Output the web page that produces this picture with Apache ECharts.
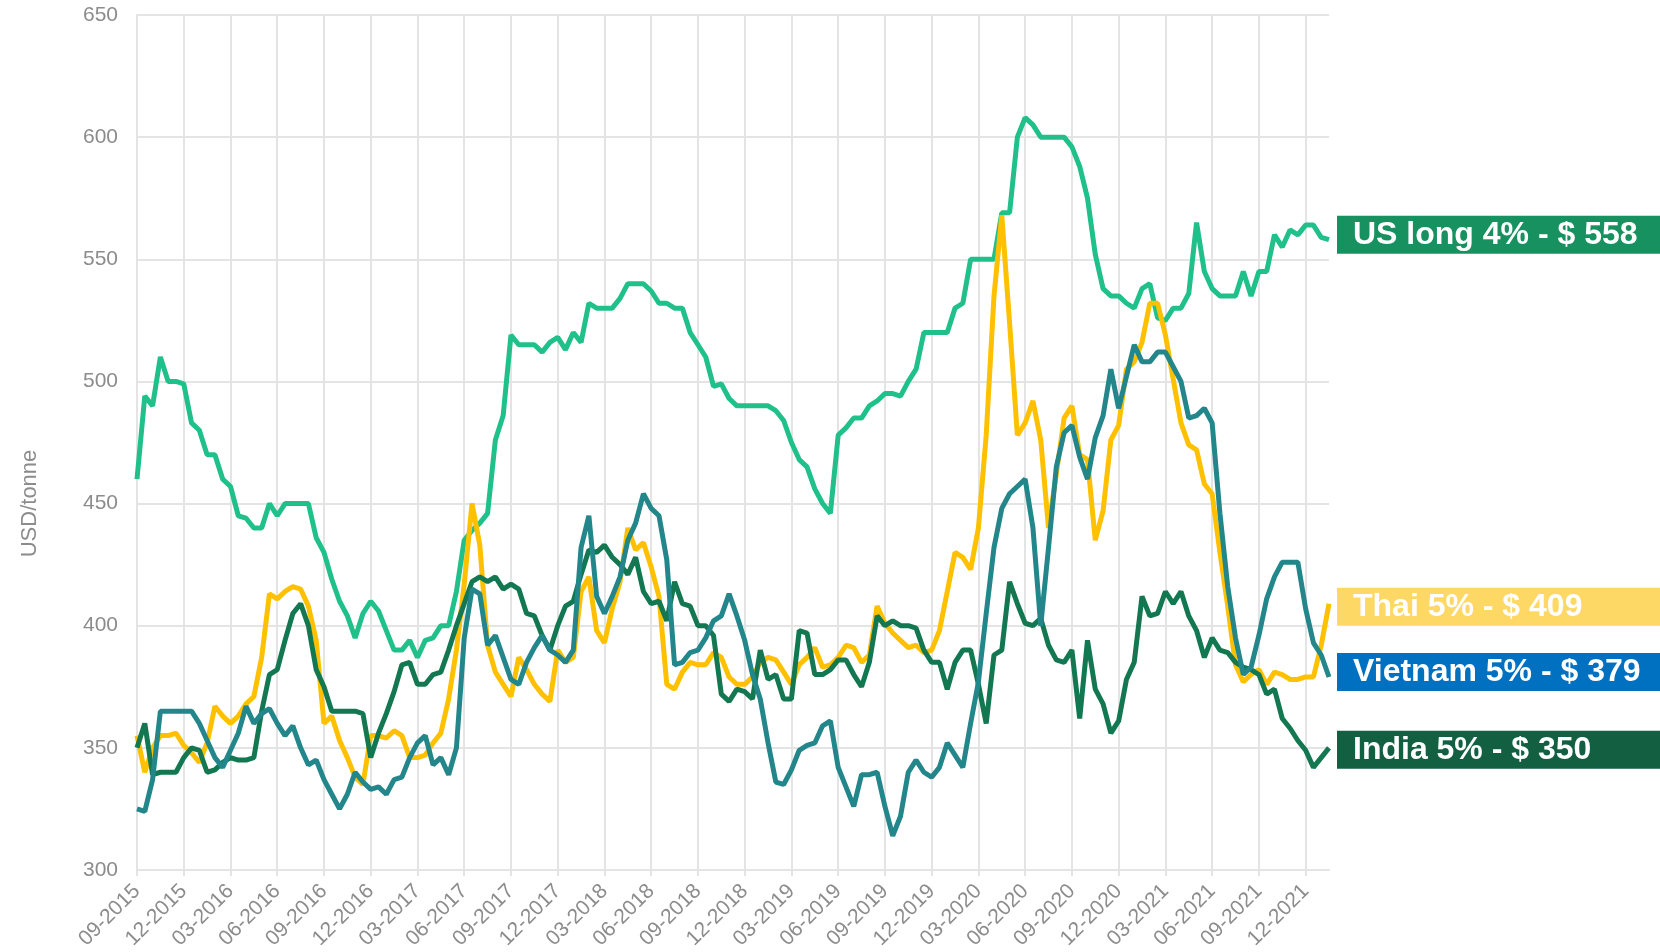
<!DOCTYPE html>
<html>
<head>
<meta charset="utf-8">
<title>Rice export prices</title>
<script src="https://cdn.jsdelivr.net/npm/echarts@6/dist/echarts.min.js"></script>
<style>
  html, body { margin: 0; padding: 0; background: #fff; }
  #myLine { width: 1660px; height: 952px; overflow: hidden; }
</style>
</head>
<body>
<div id="myLine"></div>
<script>
// tick labels, one every quarter (6 half-month steps)
var tickLabels = ["09-2015", "12-2015", "03-2016", "06-2016", "09-2016", "12-2016", "03-2017",
  "06-2017", "09-2017", "12-2017", "03-2018", "06-2018", "09-2018", "12-2018", "03-2019",
  "06-2019", "09-2019", "12-2019", "03-2020", "06-2020", "09-2020", "12-2020", "03-2021",
  "06-2021", "09-2021", "12-2021"];

// half-month readings, Sep 2015 -> Feb 2022
var usLong = [460, 494, 490, 510, 500, 500, 499, 483, 480, 470, 470, 460, 457, 445, 444, 440, 440, 450, 445, 450,
  450, 450, 450, 436, 430, 419, 410, 404, 395, 405, 410, 406, 398, 390, 390, 394, 387, 394, 395, 400,
  400, 414, 435, 439, 442, 446, 476, 486, 519, 515, 515, 515, 512, 516, 518, 513, 520, 516, 532, 530,
  530, 530, 534, 540, 540, 540, 537, 532, 532, 530, 530, 520, 515, 510, 498, 499, 493, 490, 490, 490,
  490, 490, 488, 484, 475, 468, 465, 456, 450, 446, 478, 481, 485, 485, 490, 492, 495, 495, 494, 500,
  505, 520, 520, 520, 520, 530, 532, 550, 550, 550, 550, 569, 569, 600, 608, 605, 600, 600, 600, 600,
  596, 588, 575, 552, 538, 535, 535, 532, 530, 538, 540, 526, 525, 530, 530, 536, 565, 545, 538, 535,
  535, 535, 545, 535, 545, 545, 560, 555, 562, 560, 564, 564, 559, 558];
var thai = [355, 340, 350, 355, 355, 356, 351, 348, 344, 352, 367, 363, 360, 363, 368, 371, 387, 413, 411, 414,
  416, 415, 408, 394, 360, 363, 353, 346, 338, 335, 355, 355, 354, 357, 355, 346, 346, 347, 352, 356,
  370, 390, 417, 450, 433, 392, 381, 376, 371, 387, 382, 376, 372, 369, 390, 385, 387, 414, 420, 398,
  393, 407, 418, 440, 431, 434, 424, 412, 376, 374, 381, 385, 384, 384, 389, 387, 379, 376, 376, 379,
  385, 387, 386, 381, 376, 384, 387, 391, 383, 384, 387, 392, 391, 385, 388, 408, 401, 397, 394, 391,
  392, 389, 390, 398, 414, 430, 428, 423, 440, 478, 535, 568, 524, 478, 483, 492, 476, 440, 462, 485,
  490, 470, 468, 435, 447, 476, 482, 505, 508, 516, 532, 532, 519, 501, 483, 474, 472, 458, 454, 430,
  408, 384, 377, 380, 382, 376, 381, 380, 378, 378, 379, 379, 392, 409];
var vietnam = [325, 324, 337, 365, 365, 365, 365, 365, 360, 353, 346, 342, 349, 356, 367, 360, 364, 366, 360, 355,
  359, 350, 343, 345, 337, 331, 325, 331, 340, 336, 333, 334, 331, 337, 338, 346, 352, 355, 343, 346,
  339, 350, 395, 415, 413, 392, 396, 387, 378, 376, 385, 391, 396, 390, 388, 385, 390, 432, 445, 412,
  405, 412, 420, 435, 442, 454, 448, 445, 427, 384, 385, 389, 390, 395, 402, 404, 413, 404, 394, 380,
  370, 352, 336, 335, 341, 349, 351, 352, 359, 361, 342, 334, 326, 339, 339, 340, 326, 314, 322, 340,
  345, 340, 338, 342, 352, 347, 342, 360, 377, 405, 432, 448, 454, 457, 460, 440, 400, 432, 465, 479,
  482, 469, 460, 477, 486, 505, 489, 502, 515, 508, 508, 512, 512, 506, 500, 485, 486, 489, 483, 446,
  416, 395, 380, 383, 396, 411, 420, 426, 426, 426, 407, 393, 388, 379];
var india = [350, 360, 339, 340, 340, 340, 346, 350, 349, 340, 341, 344, 346, 345, 345, 346, 365, 380, 382, 394,
  405, 409, 400, 382, 375, 365, 365, 365, 365, 364, 346, 356, 364, 373, 384, 385, 376, 376, 380, 381,
  390, 400, 409, 418, 420, 418, 420, 415, 417, 415, 405, 404, 396, 390, 400, 408, 410, 421, 431, 430,
  433, 428, 425, 421, 428, 414, 409, 410, 402, 418, 409, 408, 400, 400, 396, 372, 369, 374, 373, 370,
  390, 378, 380, 370, 370, 398, 397, 380, 380, 382, 386, 386, 380, 375, 385, 404, 400, 402, 400, 400,
  399, 390, 385, 385, 374, 385, 390, 390, 376, 360, 388, 390, 418, 409, 401, 400, 403, 392, 386, 385,
  390, 362, 394, 374, 368, 356, 361, 378, 385, 412, 404, 405, 414, 409, 414, 404, 398, 387, 395, 390,
  389, 385, 383, 382, 380, 372, 374, 362, 358, 353, 349, 342, 346, 350];

var categories = [];
for (var i = 0; i < usLong.length; i++) {
  var m = 8 + Math.floor(i / 2); // month index from Jan 2015
  var mm = (m % 12) + 1;
  categories.push((2015 + Math.floor(m / 12)) + "-" + (mm < 10 ? "0" + mm : mm) + (i % 2 ? "-16" : "-01"));
}

var font = "'Liberation Sans', Arial, sans-serif";
var gridColor = "#e4e4e4";
var textGray = "#8c8c8c";
var isQuarter = function(index) { return index % 6 === 0; };

function makeSeries(name, data, color, boxColor, dy) {
  return {
    name: name,
    type: "line",
    data: data,
    showSymbol: false,
    symbol: "none",
    lineStyle: { color: color, width: 5 },
    itemStyle: { color: color },
    endLabel: {
      show: true,
      formatter: function(p) { return name + " - $ " + p.value; },
      color: "#fff",
      fontFamily: font,
      fontWeight: "bold",
      fontSize: 32,
      backgroundColor: boxColor,
      padding: [0, 0, 0, 16],
      width: 307,
      height: 38,
      lineHeight: 38,
      distance: 8,
      offset: [0, dy]
    }
  };
}

var myLine = echarts.init(document.getElementById("myLine"));
myLine.setOption({
  animation: false,
  backgroundColor: "#fff",
  grid: { left: 137, top: 15, width: 1192, height: 856 },
  xAxis: {
    type: "category",
    data: categories,
    boundaryGap: false,
    axisLine: { lineStyle: { color: gridColor, width: 2 } },
    axisTick: { show: true, interval: isQuarter, length: 6, lineStyle: { color: gridColor, width: 2 } },
    splitLine: { show: true, interval: isQuarter, lineStyle: { color: gridColor, width: 2 } },
    axisLabel: {
      interval: isQuarter,
      rotate: 45,
      margin: 18,
      color: textGray,
      fontSize: 21,
      fontFamily: font,
      formatter: function(value, index) { return tickLabels[index / 6]; }
    }
  },
  yAxis: {
    type: "value",
    min: 300,
    max: 650,
    interval: 50,
    name: "USD/tonne",
    nameLocation: "middle",
    nameGap: 96,
    nameTextStyle: { color: textGray, fontSize: 22, fontFamily: font, padding: [0, 122, 0, 0] },
    axisLine: { show: true, lineStyle: { color: gridColor, width: 2 } },
    axisTick: { show: false },
    splitLine: { lineStyle: { color: gridColor, width: 2 } },
    axisLabel: { color: textGray, fontSize: 21, fontFamily: font, margin: 19 }
  },
  series: [
    makeSeries("US long 4%", usLong, "#20c08a", "#17915f", -5),
    makeSeries("Thai 5%", thai, "#ffc000", "#fdd865", 3),
    makeSeries("India 5%", india, "#137851", "#125f42", 2),
    makeSeries("Vietnam 5%", vietnam, "#22868b", "#0070c0", -5)
  ]
});
</script>
</body>
</html>
